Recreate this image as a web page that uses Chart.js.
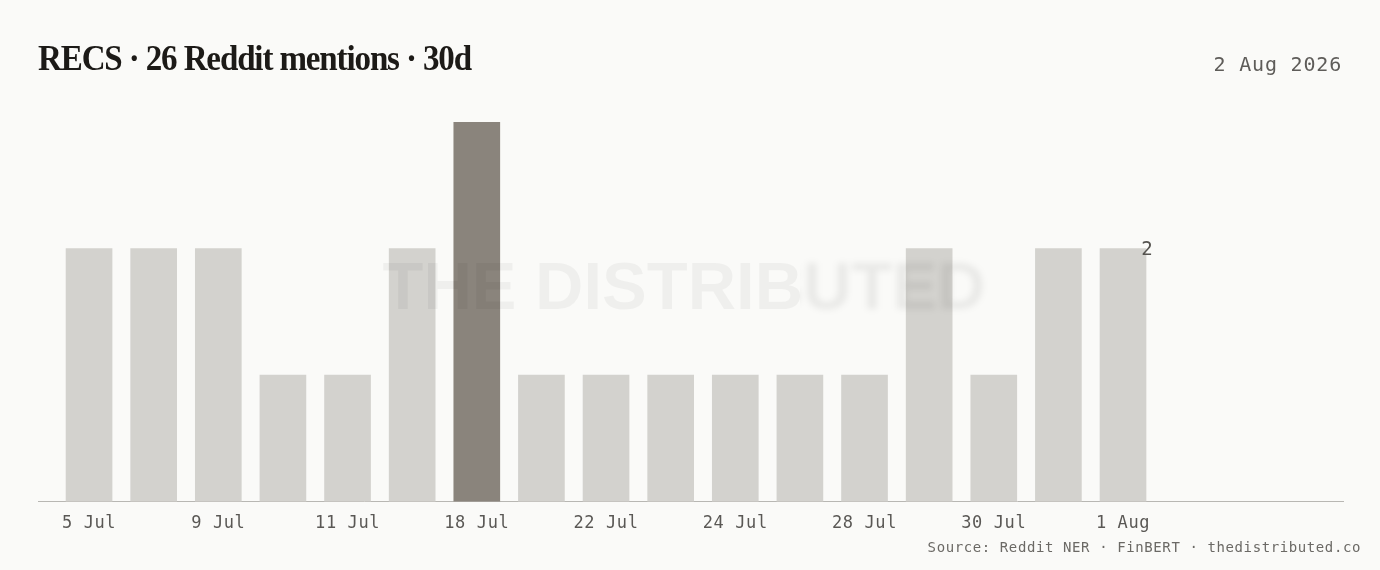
<!DOCTYPE html>
<html>
<head>
<meta charset="utf-8">
<script src="https://cdn.jsdelivr.net/npm/chart.js@4.4.1/dist/chart.umd.min.js"></script>
<style>
  html, body { margin: 0; padding: 0; background: #fafaf8; }
  #wrap { position: relative; width: 1380px; height: 570px; overflow: hidden; }
  #chart { position: absolute; left: 0; top: 0; }
  #title {
    position: absolute; left: 38px; top: 41px;
    font: bold 35px/35px "Liberation Serif", serif; color: #1c1a17;
    letter-spacing: -1.2px;
    white-space: nowrap; transform-origin: left top;
  }
  #date {
    position: absolute; right: 38px; top: 54px;
    font: 20px/20px "DejaVu Sans Mono", monospace; letter-spacing: 0.8px;
    color: #5e5c59; white-space: nowrap;
  }
  #source {
    position: absolute; right: 19px; top: 540px;
    font: 14px/14px "DejaVu Sans Mono", monospace; letter-spacing: 0.6px;
    color: #6b6965; white-space: nowrap;
  }
</style>
</head>
<body>
<div id="wrap">
  <canvas id="chart" width="1380" height="570"></canvas>
  <div id="title">RECS · 26 Reddit mentions · 30d</div>
  <div id="date">2 Aug 2026</div>
  <div id="source">Source: Reddit NER · FinBERT · thedistributed.co</div>
</div>
<script>
// days with at least one mention (every other label is shown on the axis)
const days = ['5 Jul', '7 Jul', '9 Jul', '10 Jul', '11 Jul', '14 Jul', '18 Jul', '20 Jul', '22 Jul',
              '23 Jul', '24 Jul', '26 Jul', '28 Jul', '29 Jul', '30 Jul', '31 Jul', '1 Aug'];
const mentions = [2, 2, 2, 1, 1, 2, 3, 1, 1, 1, 1, 1, 1, 2, 1, 2, 2];
const shownTicks = [0, 2, 4, 6, 8, 10, 12, 14, 16];

const BAR = '#d3d2ce';
const BAR_PEAK = '#8a847c';

// squeeze the serif title to the width of the original display face
const titleEl = document.getElementById('title');
titleEl.style.transform = 'scaleX(' + (433 / titleEl.getBoundingClientRect().width) + ')';

const peak = Math.max(...mentions);

const overlay = {
  id: 'overlay',
  beforeDraw(chart) {
    chart.ctx.letterSpacing = '0.6px';
  },
  afterDraw(chart) {
    const ctx = chart.ctx;
    // value of the latest day
    const meta = chart.getDatasetMeta(0);
    const last = meta.data[meta.data.length - 1];
    ctx.save();
    ctx.letterSpacing = '0px';
    ctx.font = '19px "DejaVu Sans Mono", monospace';
    ctx.fillStyle = '#55534f';
    ctx.textAlign = 'center';
    ctx.textBaseline = 'middle';
    ctx.fillText(String(mentions[mentions.length - 1]), last.x + last.width / 2 + 1, last.y + 2);
    ctx.restore();

    // watermark
    const wx = 684, wy = 309, cut = 800;
    ctx.save();
    ctx.letterSpacing = '0px';
    ctx.font = 'bold 67px "Liberation Sans", sans-serif';
    ctx.textAlign = 'center';
    ctx.textBaseline = 'alphabetic';
    ctx.beginPath();
    ctx.rect(0, 0, cut, chart.height);
    ctx.clip();
    ctx.fillStyle = 'rgba(0,0,0,0.045)';
    ctx.fillText('THE DISTRIBUTED', wx, wy);
    ctx.restore();

    ctx.save();
    ctx.letterSpacing = '0px';
    ctx.font = 'bold 67px "Liberation Sans", sans-serif';
    ctx.textAlign = 'center';
    ctx.textBaseline = 'alphabetic';
    ctx.beginPath();
    ctx.rect(cut, 0, chart.width - cut, chart.height);
    ctx.clip();
    ctx.filter = 'blur(3px)';
    ctx.fillStyle = 'rgba(0,0,0,0.065)';
    ctx.fillText('THE DISTRIBUTED', wx, wy);
    ctx.restore();
  }
};

new Chart(document.getElementById('chart'), {
  type: 'bar',
  data: {
    datasets: [{
      data: mentions.map((v, i) => ({ x: i, y: v })),
      backgroundColor: mentions.map(v => v === peak ? BAR_PEAK : BAR),
      borderWidth: 0,
      barThickness: 46
    }]
  },
  options: {
    responsive: false,
    animation: false,
    events: [],
    layout: { padding: { top: 122, left: 38, right: 37, bottom: 24 } },
    plugins: { legend: { display: false }, tooltip: { enabled: false } },
    scales: {
      x: {
        type: 'linear',
        offset: false,
        min: -0.79,
        max: 19.404,
        z: 1,
        grid: { display: false, drawTicks: false },
        border: { display: true, color: '#b8b7b3', width: 1 },
        afterBuildTicks: axis => { axis.ticks = shownTicks.map(v => ({ value: v })); },
        ticks: {
          autoSkip: false,
          maxRotation: 0,
          padding: 12,
          color: '#5a5855',
          font: { family: '"DejaVu Sans Mono", monospace', size: 17 },
          callback: v => days[v]
        }
      },
      y: { display: false, min: 0, max: 3 }
    }
  },
  plugins: [overlay]
});
</script>
</body>
</html>
